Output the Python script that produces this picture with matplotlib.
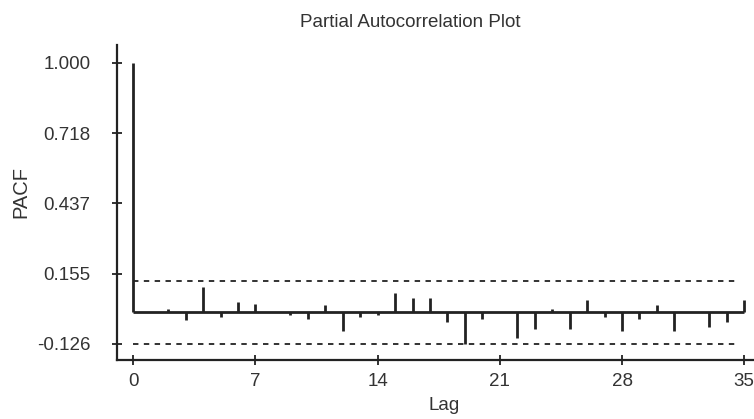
import numpy as np
import matplotlib
matplotlib.use("Agg")
import matplotlib.pyplot as plt

# values
lags = np.arange(0, 36)
pacf = [1.000, 0.000, 0.015, -0.031, 0.103, -0.019, 0.042, 0.035, 0.000, -0.011,
        -0.026, 0.031, -0.074, -0.019, -0.012, 0.076, 0.056, 0.056, -0.040, -0.126,
        -0.025, 0.000, -0.101, -0.067, 0.015, -0.067, 0.050, -0.019, -0.074, -0.025,
        0.030, -0.074, 0.000, -0.060, -0.040, 0.050]
conf = 0.126
y_ticks = [-0.126, 0.155, 0.437, 0.718, 1.000]
y_labels = ["-0.126", "0.155", "0.437", "0.718", "1.000"]
x_ticks = [0, 7, 14, 21, 28, 35]

plt.rcParams['font.family'] = ['Liberation Sans', 'DejaVu Sans']
plt.rcParams['font.size'] = 13.5

W, H = 754, 419
fig = plt.figure(figsize=(W / 100, H / 100), dpi=100)
ax = fig.add_axes([117 / W, (H - 360) / H, (W - 117) / W, (360 - 45) / H])

ink = "#222222"

# spikes + baseline
ax.vlines(lags, 0, pacf, color=ink, lw=2)
ax.plot([lags[0], lags[-1]], [0, 0], color=ink, lw=2, solid_capstyle='butt')

# confidence band
for c in (conf, -conf):
    ax.plot([lags[0], lags[-1] - 0.3], [c, c], color=ink, lw=1.3,
            linestyle=(0, (3, 3)))

ax.set_xlim(-0.934, 35.56)
ax.set_ylim(-0.191, 1.072)

ax.set_yticks(y_ticks)
ax.set_yticklabels(y_labels)
ax.set_xticks(x_ticks)

for s in ('top', 'right'):
    ax.spines[s].set_visible(False)
for s in ('left', 'bottom'):
    ax.spines[s].set_color(ink)
    ax.spines[s].set_linewidth(1.6)

ax.tick_params(axis='both', direction='inout', length=7.2, width=1.3,
               color=ink, labelcolor="#333333")
ax.tick_params(axis='y', pad=15.5)
ax.tick_params(axis='x', pad=5.5)

fig.text(410 / W, 1 - 27 / H, "Partial Autocorrelation Plot", ha='center',
         va='baseline', color="#333333")
fig.text(444 / W, 1 - 410 / H, "Lag", ha='center', va='baseline', color="#333333")
fig.text(21 / W, 1 - 192 / H, "PACF", ha='center', va='center', rotation=90,
         color="#333333", fontsize=14.5)

fig.savefig("out.png", dpi=100)
